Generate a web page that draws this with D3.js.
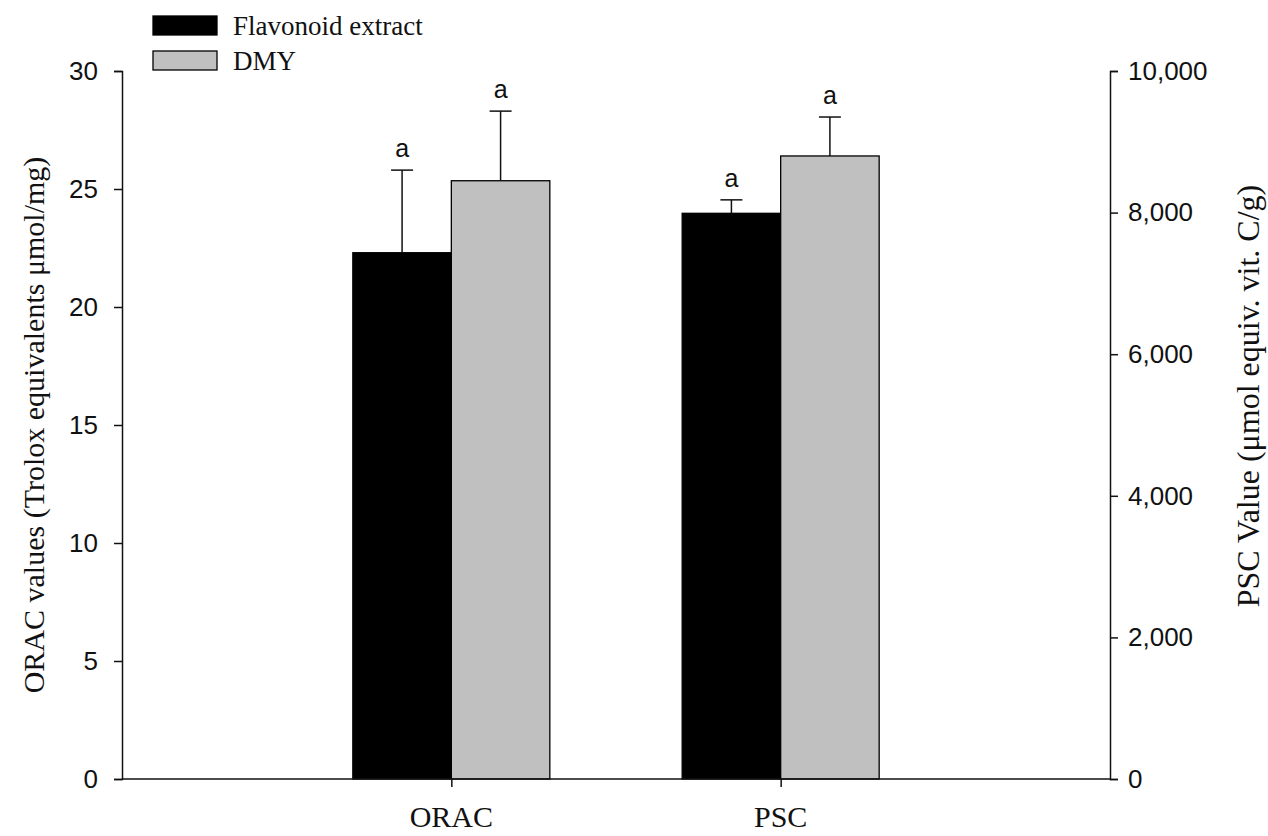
<!DOCTYPE html>
<html lang="en">
<head>
  <meta charset="UTF-8">
  <title>ORAC and PSC values</title>
  <script src="https://d3js.org/d3.v7.min.js"></script>
  <style>
    body { margin: 0; background: #fff; }
    svg { display: block; }
    .tick text { font-family: "Liberation Sans", Arial, sans-serif; font-size: 26px; fill: #111; }
    .serif { font-family: "Liberation Serif", "Times New Roman", serif; fill: #111; }
  </style>
</head>
<body>
  <svg width="1268" height="836"></svg>

  <script>
    // data
    const assays = ["ORAC", "PSC"];
    const series = ["Flavonoid extract", "DMY"];
    const seriesColors = ["#000000", "#c0c0c0"];
    const oracMeans = [22.3, 25.35];
    const oracErrors = [3.5, 2.95];
    const pscMeans = [7990, 8800];
    const pscErrors = [190, 550];
    const sigLetters = [["a", "a"], ["a", "a"]];
    const leftTicks = [0, 5, 10, 15, 20, 25, 30];
    const rightTicks = [0, 2000, 4000, 6000, 8000, 10000];

    const svg = d3.select("svg");
    const plotLeft = 122, plotRight = 1110, plotTop = 71, plotBottom = 779;

    const x = d3.scalePoint().domain(assays).range([plotLeft, plotRight]).padding(1);
    const xs = d3.scaleBand().domain(series).range([-98.5, 98.5]);
    const yL = d3.scaleLinear().domain([0, 30]).range([plotBottom, plotTop]);
    const yR = d3.scaleLinear().domain([0, 10000]).range([plotBottom, plotTop]);
    const color = d3.scaleOrdinal().domain(series).range(seriesColors);

    const rows = [];
    series.forEach((s, i) => {
      rows.push({ assay: "ORAC", s, v: oracMeans[i], e: oracErrors[i], y: yL, lab: sigLetters[0][i] });
      rows.push({ assay: "PSC", s, v: pscMeans[i], e: pscErrors[i], y: yR, lab: sigLetters[1][i] });
    });
    const cx = d => x(d.assay) + xs(d.s) + xs.bandwidth() / 2;

    // bars
    svg.selectAll("rect.bar")
      .data(rows)
      .enter()
      .append("rect")
      .attr("class", "bar")
      .attr("x", d => x(d.assay) + xs(d.s))
      .attr("y", d => d.y(d.v))
      .attr("width", xs.bandwidth())
      .attr("height", d => plotBottom - d.y(d.v))
      .attr("fill", d => color(d.s))
      .attr("stroke", "#000")
      .attr("stroke-width", 1.3);

    // error bars (upper only)
    const eb = svg.selectAll("g.err").data(rows).enter().append("g").attr("class", "err")
      .attr("stroke", "#111").attr("stroke-width", 1.5);
    eb.append("line")
      .attr("x1", cx).attr("x2", cx)
      .attr("y1", d => d.y(d.v))
      .attr("y2", d => d.y(d.v + d.e));
    eb.append("line")
      .attr("x1", d => cx(d) - 11)
      .attr("x2", d => cx(d) + 11)
      .attr("y1", d => d.y(d.v + d.e))
      .attr("y2", d => d.y(d.v + d.e));

    // significance letters
    svg.selectAll("text.sig")
      .data(rows)
      .enter()
      .append("text")
      .attr("class", "sig")
      .attr("x", cx)
      .attr("y", d => d.y(d.v + d.e) - 13)
      .attr("text-anchor", "middle")
      .style("font-family", "Liberation Sans, Arial, sans-serif")
      .style("font-size", "25px")
      .attr("fill", "#111")
      .text(d => d.lab);

    // axes
    const gl = svg.append("g").attr("transform", `translate(${plotLeft},0)`)
      .call(d3.axisLeft(yL).tickValues(leftTicks).tickSize(8).tickPadding(16));
    const gr = svg.append("g").attr("transform", `translate(${plotRight},0)`)
      .call(d3.axisRight(yR).tickValues(rightTicks).tickSize(8).tickPadding(10).tickFormat(d3.format(",")));
    const gb = svg.append("g").attr("transform", `translate(0,${plotBottom})`)
      .call(d3.axisBottom(x).tickSize(8).tickSizeOuter(0).tickFormat(""));
    gb.select(".domain").attr("d", `M${plotLeft},0H${plotRight}`);
    [gl, gr, gb].forEach(g => {
      g.select(".domain").attr("stroke", "#111").attr("stroke-width", 1.5);
      g.selectAll(".tick line").attr("stroke", "#111").attr("stroke-width", 1.5);
    });

    // category labels
    svg.selectAll("text.cat")
      .data(assays)
      .enter()
      .append("text")
      .attr("class", "serif")
      .attr("x", d => x(d))
      .attr("y", 827)
      .attr("text-anchor", "middle")
      .style("font-size", "30px")
      .text(d => d);

    // axis titles
    svg.append("text")
      .attr("class", "serif")
      .attr("transform", `translate(44,${(plotTop + plotBottom) / 2}) rotate(-90)`)
      .attr("text-anchor", "middle")
      .style("font-size", "30px")
      .text("ORAC values (Trolox equivalents μmol/mg)");
    svg.append("text")
      .attr("class", "serif")
      .attr("transform", "translate(1259,396) rotate(-90)")
      .attr("text-anchor", "middle")
      .style("font-size", "32px")
      .text("PSC Value (μmol equiv. vit. C/g)");

    // legend
    const lg = svg.selectAll("g.leg").data(series).enter().append("g")
      .attr("transform", (d, i) => `translate(153,${16 + i * 35})`);
    lg.append("rect")
      .attr("width", 64).attr("height", 19)
      .attr("fill", d => color(d))
      .attr("stroke", "#000").attr("stroke-width", 1.3);
    lg.append("text")
      .attr("class", "serif")
      .attr("x", 80).attr("y", 19)
      .style("font-size", "27px")
      .text(d => d);
  </script>
</body>
</html>
